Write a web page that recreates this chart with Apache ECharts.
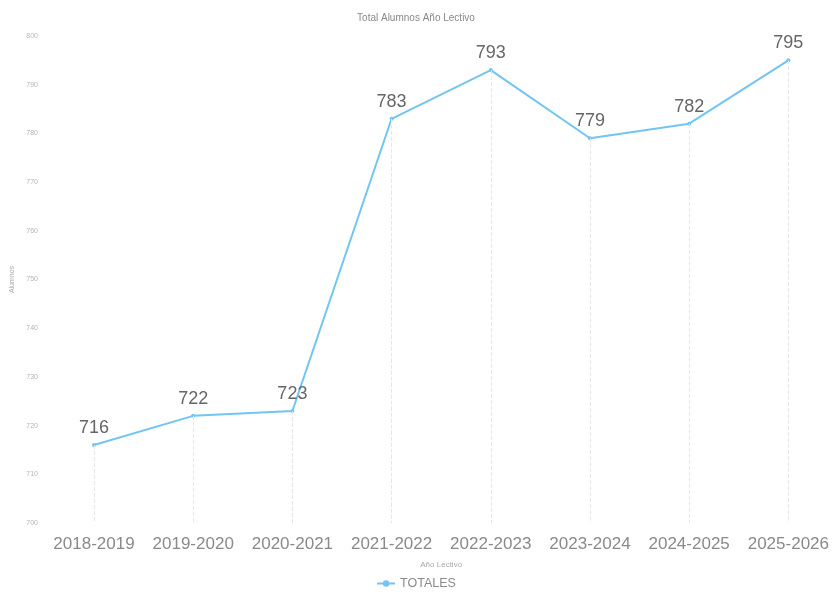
<!DOCTYPE html>
<html>
<head>
<meta charset="utf-8">
<script src="https://cdn.jsdelivr.net/npm/echarts@6/dist/echarts.min.js"></script>
<style>html,body{margin:0;padding:0;background:#fff}#c{width:832px;height:595px}</style>
</head>
<body>
<div id="c"></div>
<script>
var categories = ['2018-2019','2019-2020','2020-2021','2021-2022','2022-2023','2023-2024','2024-2025','2025-2026'];
var totales = [716, 722, 723, 783, 793, 779, 782, 795];
var yMin = 700, yMax = 800, yStep = 10;

var dropLines = totales.map(function (v, i) {
  return [{ coord: [categories[i], v] }, { coord: [categories[i], yMin] }];
});

var chart = echarts.init(document.getElementById('c'));
chart.setOption({
  animation: false,
  backgroundColor: '#fff',
  textStyle: { fontFamily: '"Liberation Sans", Arial, sans-serif' },
  title: {
    text: 'Total Alumnos Año Lectivo',
    left: 'center', top: 8,
    textStyle: { fontSize: 10, fontWeight: 'normal', color: '#8a8a8a' }
  },
  legend: {
    bottom: 0, left: 'center',
    itemWidth: 18, itemHeight: 8, itemGap: 4,
    textStyle: { fontSize: 12.5, color: '#8a8a8a' },
    data: ['TOTALES']
  },
  grid: { left: 94, right: 43, top: 36, bottom: 72 },
  xAxis: {
    type: 'category',
    data: categories,
    boundaryGap: false,
    name: 'Año Lectivo',
    nameLocation: 'middle',
    nameGap: 38,
    nameTextStyle: { fontSize: 8, color: '#aaa' },
    axisLine: { show: false },
    axisTick: { show: false },
    axisLabel: { fontSize: 17, color: '#8a8a8a', margin: 13, interval: 0 },
    splitLine: { show: false }
  },
  yAxis: {
    type: 'value',
    min: yMin, max: yMax, interval: yStep,
    name: 'Alumnos',
    nameLocation: 'middle',
    nameGap: 72,
    nameTextStyle: { fontSize: 7, color: '#aaa' },
    axisLine: { show: false },
    axisTick: { show: false },
    axisLabel: { fontSize: 7, color: '#b5b5b5', margin: 56 },
    splitLine: { show: false }
  },
  series: [{
    name: 'TOTALES',
    type: 'line',
    data: totales,
    symbol: 'circle',
    symbolSize: 4,
    lineStyle: { color: '#72c5f2', width: 2 },
    itemStyle: { color: '#72c5f2' },
    label: { show: true, position: 'top', distance: 6, fontSize: 18, color: '#666' },
    markLine: {
      silent: true,
      symbol: ['none', 'none'],
      label: { show: false },
      lineStyle: { type: 'dashed', color: '#e6e6e6', width: 1 },
      data: dropLines
    }
  }]
});
</script>
</body>
</html>
